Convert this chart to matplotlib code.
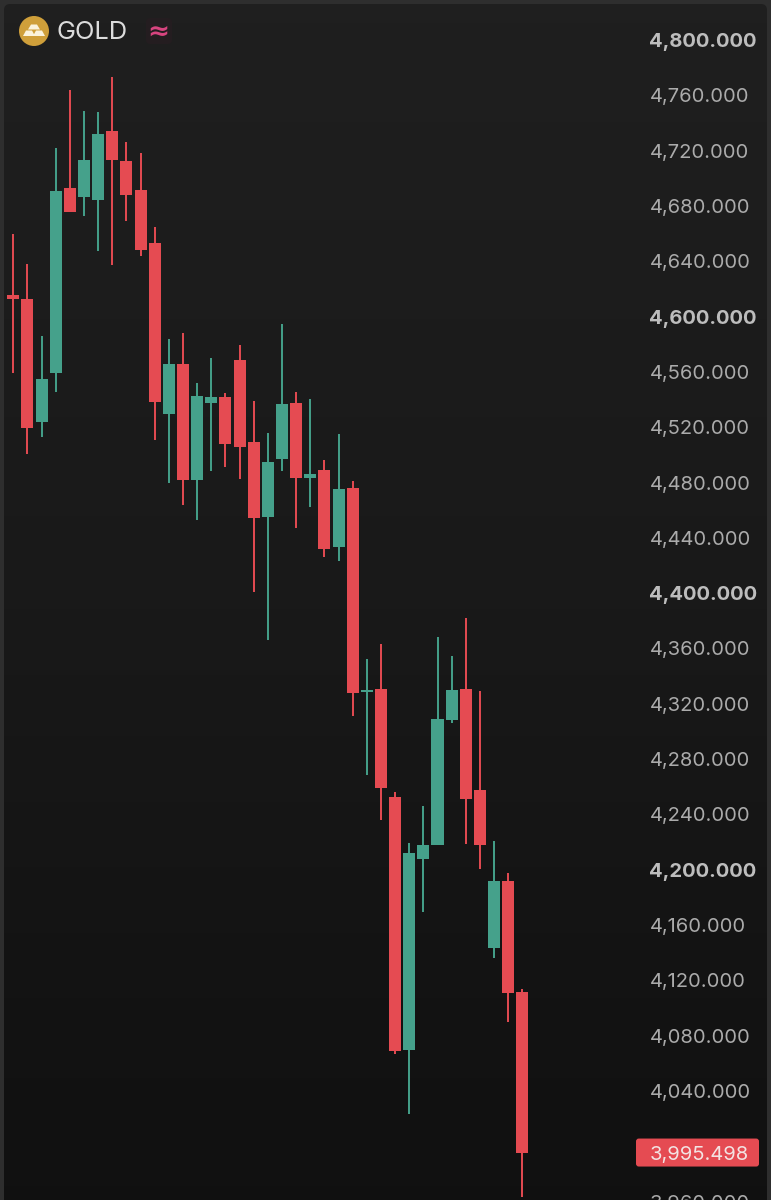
import numpy as np
import matplotlib
matplotlib.use("Agg")
import matplotlib.pyplot as plt
from matplotlib.patches import Circle, FancyBboxPatch, Polygon
from matplotlib.transforms import blended_transform_factory

plt.rcParams['font.family'] = ['Inter', 'DejaVu Sans']

# daily candles, oldest first
opens = [4615.6, 4612.7, 4524.0, 4559.0, 4693.0, 4686.5, 4684.5, 4734.2, 4712.5, 4691.7,
         4653.2, 4529.8, 4565.5, 4482.0, 4537.7, 4541.8, 4568.6, 4509.3, 4454.9, 4496.8,
         4537.3, 4483.3, 4488.8, 4433.6, 4476.0, 4328.5, 4330.5, 4252.6, 4069.6, 4208.0,
         4217.7, 4308.3, 4330.5, 4257.4, 4143.2, 4191.6, 4111.8]
highs = [4659.7, 4638.0, 4586.0, 4721.9, 4763.8, 4748.7, 4747.9, 4773.2, 4726.2, 4718.3,
         4664.8, 4584.0, 4588.3, 4552.2, 4570.3, 4545.0, 4579.2, 4538.7, 4515.6, 4594.6,
         4545.2, 4540.6, 4496.1, 4514.9, 4480.9, 4352.6, 4363.0, 4256.4, 4219.1, 4245.9,
         4368.3, 4354.6, 4381.8, 4329.0, 4220.6, 4197.4, 4114.0]
lows = [4559.4, 4500.6, 4513.1, 4545.7, 4675.6, 4672.7, 4647.4, 4637.3, 4669.1, 4643.8,
        4510.8, 4479.9, 4463.7, 4453.1, 4488.1, 4491.0, 4482.3, 4401.1, 4366.1, 4488.3,
        4447.3, 4462.1, 4425.9, 4423.5, 4311.2, 4268.3, 4236.2, 4066.5, 4023.4, 4169.7,
        4217.7, 4305.9, 4218.6, 4200.5, 4136.0, 4090.1, 3963.6]
closes = [4612.7, 4519.6, 4554.6, 4690.8, 4675.8, 4713.2, 4732.2, 4713.2, 4688.1, 4648.4,
          4538.4, 4565.5, 4482.0, 4542.6, 4542.1, 4507.6, 4505.9, 4454.3, 4494.8, 4537.0,
          4483.3, 4486.4, 4431.9, 4475.3, 4327.6, 4330.0, 4259.1, 4068.9, 4212.1, 4217.9,
          4308.8, 4330.0, 4251.4, 4217.9, 4191.6, 4111.1, 3995.498]

tick_prices = list(range(4800, 3920, -40))
major_prices = [4800, 4600, 4400, 4200]
symbol = "GOLD"

UP = "#45A18B"
DOWN = "#E54B52"
W, H = 771, 1200

fig = plt.figure(figsize=(W / 100, H / 100), dpi=100, facecolor="#2e2e2e")

# panel background, slightly lighter at the top
bg = fig.add_axes([0, 0, 1, 1], zorder=0)
bg.set_xlim(0, W)
bg.set_ylim(H, 0)
bg.axis("off")
shade = np.interp(np.arange(256), [0, 128, 220, 255], [0.122, 0.098, 0.072, 0.066]).reshape(-1, 1)
im = bg.imshow(shade, cmap="gray", vmin=0, vmax=1, extent=[0, W, H, 0], aspect="auto")
panel = FancyBboxPatch((4, 4), 763, 1300, boxstyle="round,pad=0,rounding_size=6",
                       fc="none", ec="none", transform=bg.transData)
bg.add_patch(panel)
im.set_clip_path(panel)

# price chart, x in candle index and y in price
ax = fig.add_axes([0, 0, 1, 1], zorder=1)
ax.patch.set_alpha(0)
ax.axis("off")
ax.set_xlim(-13.3 / 14.14, (W - 13.3) / 14.14)
ax.set_ylim(3961.18, 4828.92)

x = np.arange(len(opens))
opens_a, closes_a = np.array(opens), np.array(closes)
colors = [UP if c >= o else DOWN for o, c in zip(opens_a, closes_a)]
ax.vlines(x, lows, highs, colors=colors, linewidth=1.4, zorder=2)
ax.bar(x, np.abs(closes_a - opens_a), bottom=np.minimum(opens_a, closes_a),
       width=0.85, color=colors, linewidth=0, zorder=3)

# price scale on the right
trans = blended_transform_factory(ax.transAxes, ax.transData)
for p in tick_prices:
    major = p in major_prices
    ax.text(649.5 / W, p, f"{p:,.3f}", transform=trans, ha="left", va="center_baseline",
            fontsize=14.5, fontweight="bold" if major else "normal",
            color="#bdbdbd" if major else "#ababab", zorder=4)

# last price tag
last = closes[-1]
per_px = (ax.get_ylim()[1] - ax.get_ylim()[0]) / H
tag_x = (636 - 13.3) / 14.14
tag = FancyBboxPatch((tag_x, last - 14 * per_px), 123 / 14.14, 28 * per_px,
                     boxstyle="round,pad=0,rounding_size=0.2",
                     mutation_aspect=per_px * 14.14, fc=DOWN, ec="none", zorder=5)
ax.add_patch(tag)
ax.text(649.5 / W, last, f"{last:,.3f}", transform=trans, ha="left", va="center_baseline",
        fontsize=14.5, color="#f3e3e3", zorder=6)

# symbol header
top = fig.add_axes([0, 0, 1, 1], zorder=2)
top.patch.set_alpha(0)
top.set_xlim(0, W)
top.set_ylim(H, 0)
top.axis("off")
top.add_patch(Circle((34, 31), 15, fc="#CF9F3A", ec="none"))
top.add_patch(Polygon([[31, 24.5], [37, 24.5], [40, 29.5], [28, 29.5]], fc="#FBF3DC", ec="none"))
top.add_patch(Polygon([[26, 30.5], [32, 30.5], [35, 36], [23, 36]], fc="#FBF3DC", ec="none"))
top.add_patch(Polygon([[36, 30.5], [42, 30.5], [45, 36], [33, 36]], fc="#FBF3DC", ec="none"))
top.text(57, 32.5, symbol, ha="left", va="center", fontsize=18.3, color="#dcdcdc")
top.add_patch(FancyBboxPatch((146, 18), 26, 26, boxstyle="round,pad=0,rounding_size=4",
                             fc="#241d20", ec="none"))
top.text(158, 31.5, "≈", ha="center", va="center", fontsize=19, fontweight="bold",
         color="#D8447F", family="DejaVu Sans")

fig.savefig("out.png", dpi=100, facecolor=fig.get_facecolor())
